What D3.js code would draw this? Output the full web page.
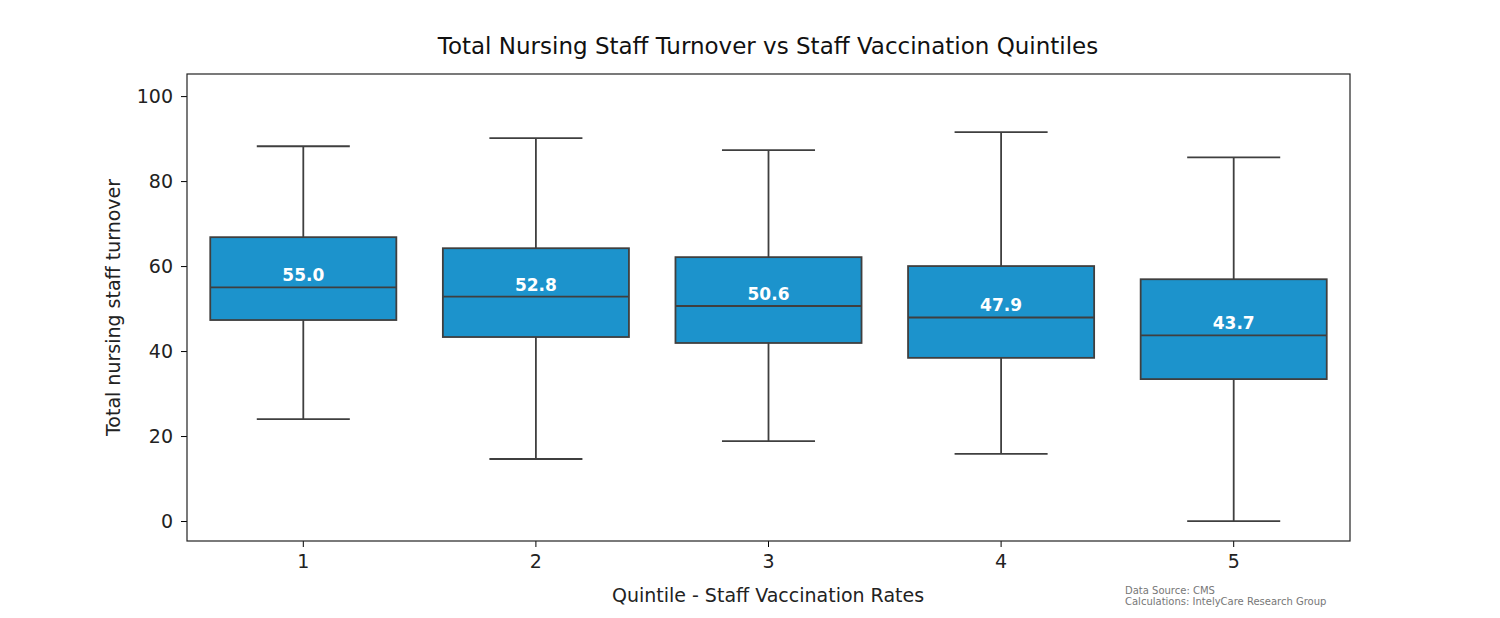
<!DOCTYPE html>
<html><head><meta charset="utf-8">
<script src="https://cdn.jsdelivr.net/npm/d3@7"></script>
<style>body{margin:0;background:#fff}text{font-family:"DejaVu Sans",sans-serif}</style>
</head><body><svg id="c" width="1500" height="618"></svg>
<script>
const quintiles = ["1", "2", "3", "4", "5"];
const whiskerLow = [24.0, 14.6, 18.8, 15.8, 0.0];
const q1 = [47.3, 43.3, 41.9, 38.4, 33.4];
const medians = [55.0, 52.8, 50.6, 47.9, 43.7];
const q3 = [66.8, 64.2, 62.1, 60.0, 56.9];
const whiskerHigh = [88.2, 90.1, 87.3, 91.5, 85.6];
const yTicks = [0, 20, 40, 60, 80, 100];

const svg = d3.select("#c");
const L = 187, R = 1350, T = 74, B = 541;
const x = d3.scaleBand().domain(quintiles).range([L, R]).paddingInner(0).paddingOuter(0);
const y = d3.scaleLinear().domain([-4.7, 105.2]).range([B, T]);
const bw = x.bandwidth() * 0.8;
const ink = "#3f3f3f";

svg.append("g").attr("transform", `translate(0,${B})`)
  .call(d3.axisBottom(x).tickSize(6).tickPadding(8))
  .call(g => g.select(".domain").remove())
  .call(g => g.selectAll("text").attr("font-size", 19).attr("fill", "#222"));
svg.append("g").attr("transform", `translate(${L},0)`)
  .call(d3.axisLeft(y).tickValues(yTicks).tickSize(6).tickPadding(8))
  .call(g => g.select(".domain").remove())
  .call(g => g.selectAll("text").attr("font-size", 19).attr("fill", "#222"));

const data = quintiles.map((q, i) => ({q, lo: whiskerLow[i], q1: q1[i], med: medians[i], q3: q3[i], hi: whiskerHigh[i]}));
const g = svg.append("g").selectAll("g").data(data).join("g");
g.append("line").attr("x1", d => x(d.q) + x.bandwidth() / 2).attr("x2", d => x(d.q) + x.bandwidth() / 2)
  .attr("y1", d => y(d.q3)).attr("y2", d => y(d.hi)).attr("stroke", ink).attr("stroke-width", 1.8);
g.append("line").attr("x1", d => x(d.q) + x.bandwidth() / 2).attr("x2", d => x(d.q) + x.bandwidth() / 2)
  .attr("y1", d => y(d.q1)).attr("y2", d => y(d.lo)).attr("stroke", ink).attr("stroke-width", 1.8);
["hi", "lo"].forEach(k => {
  g.append("line").attr("x1", d => x(d.q) + x.bandwidth() / 2 - bw / 4).attr("x2", d => x(d.q) + x.bandwidth() / 2 + bw / 4)
    .attr("y1", d => y(d[k])).attr("y2", d => y(d[k])).attr("stroke", ink).attr("stroke-width", 1.8);
});
g.append("rect").attr("x", d => x(d.q) + (x.bandwidth() - bw) / 2).attr("width", bw)
  .attr("y", d => y(d.q3)).attr("height", d => y(d.q1) - y(d.q3))
  .attr("fill", "#1c93cc").attr("stroke", ink).attr("stroke-width", 1.8);
g.append("line").attr("x1", d => x(d.q) + (x.bandwidth() - bw) / 2).attr("x2", d => x(d.q) + (x.bandwidth() + bw) / 2)
  .attr("y1", d => y(d.med)).attr("y2", d => y(d.med)).attr("stroke", ink).attr("stroke-width", 1.8);
g.append("text").attr("x", d => x(d.q) + x.bandwidth() / 2).attr("y", d => y(d.med) - 6)
  .attr("text-anchor", "middle").attr("font-size", 17).attr("font-weight", "bold").attr("fill", "#fff")
  .text(d => d.med.toFixed(1));

svg.append("rect").attr("x", L).attr("y", T).attr("width", R - L).attr("height", B - T)
  .attr("fill", "none").attr("stroke", "#222").attr("stroke-width", 1.2);

svg.append("text").attr("x", 768).attr("y", 54).attr("text-anchor", "middle").attr("font-size", 23).attr("fill", "#111")
  .text("Total Nursing Staff Turnover vs Staff Vaccination Quintiles");
svg.append("text").attr("x", 768).attr("y", 602).attr("text-anchor", "middle").attr("font-size", 19).attr("fill", "#222")
  .text("Quintile - Staff Vaccination Rates");
svg.append("text").attr("transform", `translate(120,${(T + B) / 2}) rotate(-90)`).attr("text-anchor", "middle")
  .attr("font-size", 19).attr("fill", "#222").text("Total nursing staff turnover");
svg.append("text").attr("x", 1125).attr("y", 594).attr("font-size", 10).attr("fill", "#777").text("Data Source: CMS");
svg.append("text").attr("x", 1125).attr("y", 605).attr("font-size", 10).attr("fill", "#777").text("Calculations: IntelyCare Research Group");
</script></body></html>
